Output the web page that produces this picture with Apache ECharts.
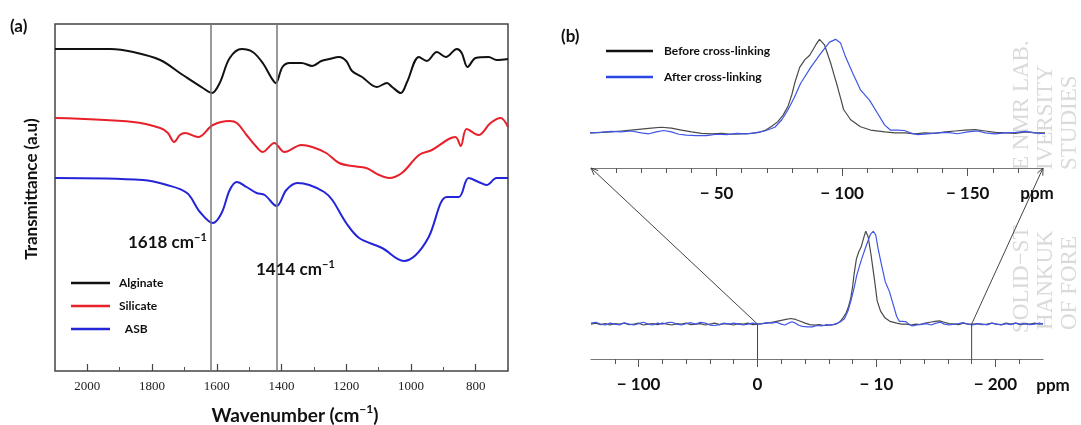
<!DOCTYPE html>
<html>
<head>
  <meta charset="utf-8">
  <title>FTIR and 29Si NMR</title>
  <script src="https://cdn.jsdelivr.net/npm/echarts@6/dist/echarts.min.js"></script>
  <style>
    html, body { margin: 0; padding: 0; background: #fff; }
    #chart { width: 1081px; height: 425px; }
  </style>
</head>
<body>
<div id="chart"></div>
<script>
  // ---- panel (a): FTIR, [wavenumber, transmittance a.u.] ----
  var alginate = [[2100,322],[1929,322],[1858,319],[1775,311],[1705,296],[1643,283],[1615,278],[1591,288],[1560,313],
    [1523,322],[1489,319],[1458,308],[1431,293],[1418,288],[1397,304],[1375,308],[1338,308],[1305,305],[1277,310],
    [1252,312],[1222,314],[1200,310],[1182,300],[1151,294],[1105,284],[1074,288],[1058,284],[1031,278],[1012,289],
    [975,314],[951,310],[920,319],[892,314],[858,322],[843,318],[825,304],[800,313],[760,314],[735,311],[700,312]];
  var silicate = [[2100,253],[1858,249],[1775,243],[1751,238],[1732,229],[1714,236],[1698,238],[1658,234],[1612,246],
    [1560,250],[1538,248],[1508,236],[1477,224],[1458,219],[1422,228],[1391,219],[1338,226],[1305,224],[1262,218],
    [1222,208],[1182,205],[1138,203],[1098,196],[1068,193],[1028,198],[975,216],[935,221],[883,232],[862,234],
    [846,225],[828,242],[791,236],[754,248],[723,253],[700,244]];
  var asb = [[2100,193],[1828,191],[1754,186],[1692,178],[1652,159],[1612,148],[1585,158],[1560,181],[1538,189],
    [1508,184],[1477,178],[1452,176],[1415,165],[1385,181],[1351,188],[1314,186],[1268,179],[1243,171],[1200,148],
    [1160,133],[1089,123],[1022,110],[985,116],[945,134],[889,174],[852,174],[822,193],[791,189],[766,186],[735,193],[700,193]];
  var ftirNames = ['Alginate', 'Silicate', 'ASB'];
  var ftirMarks = [1618, 1414];
  var ftirLabels = [2000, 1800, 1600, 1400, 1200, 1000, 800];
  var ftirMinor = [1900, 1700, 1500, 1300, 1100, 900];

  // ---- panel (b): NMR, [ppm, normalised intensity] ----
  var beforeXL = [[140,0],[136,0.01],[132,-0.005],[128,0.005],[124,-0.01],[120,0.005],[116,0],[112,0.01],[108,-0.005],
    [104,0],[100,0.01],[96,-0.01],[92,0],[88,0.005],[84,-0.005],[80,0.01],[76,0],[72,-0.01],[68,0.005],[64,0],[60,0.01],
    [56,-0.005],[52,0],[48,0.005],[44,-0.01],[40,0],[36,0.01],[32,-0.005],[28,0.005],[24,0],[20,-0.01],[16,0.005],[12,0],
    [8,0.01],[4,-0.005],[0,0],[-4,0.005],[-8,0.01],[-12,0.02],[-16,0.03],[-20,0.04],[-24,0.05],[-28,0.06],[-32,0.05],
    [-36,0.03],[-40,0.01],[-44,-0.005],[-48,-0.01],[-52,-0.005],[-56,-0.015],[-60,-0.01],[-64,-0.005],[-67,0.005],
    [-69.6,0.03],[-72,0.07],[-74.4,0.12],[-76.5,0.19],[-78.4,0.28],[-80,0.41],[-81.1,0.53],[-83.1,0.70],[-85.1,0.78],
    [-87.1,0.83],[-89.5,0.94],[-91,1.0],[-93,0.94],[-95.4,0.75],[-96.8,0.62],[-98.2,0.49],[-99.5,0.36],[-100.6,0.25],
    [-103.4,0.14],[-107.3,0.065],[-111.3,0.03],[-117,0.01],[-121,0],[-125,0],[-129,-0.01],[-133,0],[-137,-0.005],
    [-141,0.01],[-145,0.02],[-149,0.03],[-153,0.035],[-157,0.02],[-161,0.005],[-165,0],[-169,-0.005],[-173,0.01],
    [-177,0],[-181,0],[-185,0.005],[-189,-0.005],[-193,0],[-197,0.01],[-201,0],[-205,-0.005],[-209,0.01],[-213,0],
    [-217,0.01],[-221,-0.005],[-225,0.005],[-229,0],[-233,0.01],[-237,0],[-240,0.005]];
  var afterXL = [[140,0.01],[136,0.02],[132,0],[128,-0.01],[124,0.01],[120,0],[116,-0.01],[112,0.015],[108,0],
    [104,-0.01],[100,0.005],[96,0.02],[92,0],[88,-0.01],[84,0.01],[80,0],[76,0.015],[72,0.02],[68,0],[64,-0.01],
    [60,0.005],[56,0.015],[52,0],[48,0.02],[44,0.01],[40,-0.01],[36,-0.015],[32,-0.005],[28,0.01],[24,0],[20,0.01],
    [16,0],[12,-0.01],[8,0],[4,0.01],[0,0],[-4,0.005],[-8,0.015],[-12,0.01],[-16,0.02],[-20,0],[-23,-0.01],[-26,0.01],
    [-29,0.025],[-32,0.01],[-35,-0.015],[-38,-0.025],[-42,-0.03],[-46,-0.03],[-50,-0.015],[-54,-0.02],[-58,-0.005],
    [-62,-0.01],[-65,0],[-69.2,0.02],[-73.2,0.06],[-76,0.14],[-78.4,0.245],[-81,0.38],[-83.5,0.53],[-87.5,0.70],
    [-91.5,0.85],[-95,0.97],[-97.4,1.0],[-99.4,0.96],[-101.4,0.81],[-104.2,0.64],[-107.3,0.46],[-110.9,0.35],
    [-114.1,0.21],[-116.9,0.085],[-119.2,0.03],[-122,0.03],[-124.8,0.025],[-127.2,0],[-130,-0.02],[-134,-0.01],[-138,0],
    [-142,0.005],[-146,-0.01],[-150,0.01],[-154,0.02],[-157,0],[-161,-0.01],[-165,0],[-169,0.005],[-173,0.015],[-177,0],
    [-181,-0.01],[-185,0.005],[-189,0],[-193,-0.01],[-197,0.01],[-201,0],[-205,-0.01],[-209,0.005],[-213,-0.005],
    [-217,0.01],[-221,0],[-225,0.005],[-229,-0.005],[-233,0],[-237,0.01],[-240,0]];
  var nmrNames = ['Before cross-linking', 'After cross-linking'];
  var zoomRange = [0, -180];            // region of the wide spectrum that is enlarged on top
  var topTickVals = [-50, -100, -150];
  var topTickText = ['\u2212 50', '\u2212 100', '\u2212 150'];
  var topMinor = [-10,-20,-30,-40,-60,-70,-80,-90,-110,-120,-130,-140,-160,-170];
  var botTickVals = [100, 0, -100, -200];
  var botTickText = ['\u2212 100', '0', '\u2212 10', '\u2212 200'];
  var botMinor = [120,80,60,40,20,-20,-40,-60,-80,-120,-140,-160,-180,-220];

  var SANS = 'Lato, "Open Sans", sans-serif';
  var SERIF = '"Liberation Serif", "DejaVu Serif", serif';
  var nmrLow = -0.376, nmrHigh = 1.1;

  function minorAxis(grid, min, max, ticks, len, inside) {
    return {
      type: 'value', gridIndex: grid, min: min, max: max, inverse: true, position: 'bottom',
      axisLine: {show: false, onZero: false}, splitLine: {show: false}, axisLabel: {show: false},
      axisTick: {show: true, customValues: ticks, length: len, inside: inside, lineStyle: {color: '#555', width: 1}}
    };
  }

  var chart = echarts.init(document.getElementById('chart'));

  chart.setOption({
    animation: false,
    backgroundColor: '#fff',
    grid: [
      {left: 55, top: 24, width: 453, height: 347, show: true, borderColor: '#444', borderWidth: 1.5},
      {left: 591, top: 30, width: 452, height: 138},
      {left: 591, top: 222, width: 452, height: 137}
    ],
    xAxis: [
      {
        type: 'value', gridIndex: 0, min: 700, max: 2100, inverse: true,
        axisLine: {show: false, onZero: false}, splitLine: {show: false},
        axisTick: {show: true, inside: true, length: 7, customValues: ftirLabels, lineStyle: {color: '#444', width: 1.2}},
        axisLabel: {customValues: ftirLabels, margin: 9, fontFamily: SERIF, fontSize: 13, color: '#222',
          formatter: function (v) { return String(v); }}
      },
      minorAxis(0, 700, 2100, ftirMinor, 4, true),
      {
        type: 'value', gridIndex: 1, min: zoomRange[1], max: zoomRange[0], inverse: true,
        axisLine: {show: true, onZero: false, lineStyle: {color: '#777', width: 1.2}}, splitLine: {show: false},
        axisTick: {show: true, length: 8, customValues: topTickVals, lineStyle: {color: '#555'}},
        axisLabel: {customValues: topTickVals, margin: 17, fontFamily: SANS, fontWeight: 'bold', fontSize: 17, color: '#111',
          formatter: function (v) { return topTickText[topTickVals.indexOf(v)]; }}
      },
      minorAxis(1, zoomRange[1], zoomRange[0], topMinor, 5, false),
      {
        type: 'value', gridIndex: 2, min: -240, max: 140, inverse: true,
        axisLine: {show: true, onZero: false, lineStyle: {color: '#777', width: 1.2}}, splitLine: {show: false},
        axisTick: {show: true, length: 8, customValues: botTickVals, lineStyle: {color: '#555'}},
        axisLabel: {customValues: botTickVals, margin: 17, fontFamily: SANS, fontWeight: 'bold', fontSize: 17, color: '#111',
          formatter: function (v) { return botTickText[botTickVals.indexOf(v)]; }}
      },
      minorAxis(2, -240, 140, botMinor, 5, false)
    ],
    yAxis: [
      {type: 'value', gridIndex: 0, min: 0, max: 347, show: false},
      {type: 'value', gridIndex: 1, min: nmrLow, max: nmrHigh, show: false},
      {type: 'value', gridIndex: 2, min: nmrLow, max: nmrHigh, show: false}
    ],
    legend: [
      {
        data: ftirNames, orient: 'vertical', left: 71, top: 277, padding: 0, itemGap: 11,
        icon: 'rect', itemWidth: 39, itemHeight: 2.5, selectedMode: false,
        formatter: function (n) { return n === 'ASB' ? '  ' + n : n; },
        textStyle: {fontFamily: SANS, fontWeight: 'bold', fontSize: 12, color: '#111', padding: [0, 0, 0, 4]}
      },
      {
        data: [{name: nmrNames[0], itemStyle: {color: '#111'}}, {name: nmrNames[1], itemStyle: {color: '#2a46e6'}}],
        orient: 'vertical', left: 606, top: 45, padding: 0, itemGap: 14,
        icon: 'rect', itemWidth: 47, itemHeight: 2.5, selectedMode: false,
        textStyle: {fontFamily: SANS, fontWeight: 'bold', fontSize: 12, color: '#111', padding: [0, 0, 0, 6]}
      }
    ],
    series: [
      {
        name: ftirNames[0], type: 'line', xAxisIndex: 0, yAxisIndex: 0, data: alginate, smooth: 0.35,
        showSymbol: false, color: '#111', lineStyle: {width: 2, color: '#111'},
        markLine: {
          silent: true, symbol: 'none', label: {show: false},
          lineStyle: {color: '#777', width: 1.5, type: 'solid'},
          data: ftirMarks.map(function (v) { return {xAxis: v}; })
        }
      },
      {name: ftirNames[1], type: 'line', xAxisIndex: 0, yAxisIndex: 0, data: silicate, smooth: 0.35,
        showSymbol: false, color: '#e8202a', lineStyle: {width: 2, color: '#e8202a'}},
      {name: ftirNames[2], type: 'line', xAxisIndex: 0, yAxisIndex: 0, data: asb, smooth: 0.35,
        showSymbol: false, color: '#2424d8', lineStyle: {width: 2, color: '#2424d8'}},
      {name: nmrNames[0], type: 'line', xAxisIndex: 2, yAxisIndex: 1, data: beforeXL, showSymbol: false,
        color: '#444', lineStyle: {width: 1.2, color: '#4a4a4a'}},
      {name: nmrNames[1], type: 'line', xAxisIndex: 2, yAxisIndex: 1, data: afterXL, showSymbol: false,
        color: '#3b4fe6', lineStyle: {width: 1.2, color: '#4055e6'}},
      {name: nmrNames[0], type: 'line', xAxisIndex: 4, yAxisIndex: 2, data: beforeXL, showSymbol: false,
        color: '#444', lineStyle: {width: 1.2, color: '#4a4a4a'}},
      {name: nmrNames[1], type: 'line', xAxisIndex: 4, yAxisIndex: 2, data: afterXL, showSymbol: false,
        color: '#3b4fe6', lineStyle: {width: 1.2, color: '#4055e6'}}
    ]
  });

  // ---- texts and connector lines (positions of the connectors come from the axes) ----
  function txt(x, y, text, size, extra) {
    var el = {type: 'text', x: x, y: y, z: 10, style: {text: text, fill: '#111', fontFamily: SANS, fontWeight: 'bold',
      fontSize: size, align: 'left', verticalAlign: 'middle'}};
    for (var k in extra) el.style[k] = extra[k];
    return el;
  }
  function supText(x, y, main, tail, size, align) {
    return {type: 'text', x: x, y: y, z: 10, style: {
      text: '{m|' + main + '}{s|\u22121}' + (tail ? '{m|' + tail + '}' : ''),
      align: align || 'left', verticalAlign: 'middle',
      rich: {
        m: {fontFamily: SANS, fontWeight: 'bold', fontSize: size, fill: '#111', lineHeight: size + 6},
        s: {fontFamily: SANS, fontWeight: 'bold', fontSize: Math.round(size * 0.62), fill: '#111',
          lineHeight: Math.round(size * 0.62), verticalAlign: 'top'}
      }
    }};
  }
  function segment(a, b) {
    return {type: 'line', z: 5, shape: {x1: a[0], y1: a[1], x2: b[0], y2: b[1]}, style: {stroke: '#444', lineWidth: 1}};
  }
  function arrowHead(from, to) {
    var dx = to[0] - from[0], dy = to[1] - from[1], len = Math.sqrt(dx * dx + dy * dy);
    var ux = dx / len, uy = dy / len, L = 7, W = 3;
    var bx = to[0] - ux * L, by = to[1] - uy * L;
    return {type: 'polyline', z: 5, shape: {points: [[bx - uy * W, by + ux * W], to, [bx + uy * W, by - ux * W]]},
      style: {stroke: '#444', lineWidth: 1, fill: null}};
  }

  var graphics = [];

  // watermark pieces (left visible around the axis band)
  var wm = [['SOLID\u2212ST', 1022, 333], ['E NMR LAB.', 1022, 170], ['HANKUK', 1046, 330],
    ['IVERSITY', 1046, 170], ['OF FORE', 1070, 330], ['STUDIES', 1070, 170]];
  wm.forEach(function (w) {
    graphics.push({type: 'text', x: w[1], y: w[2], rotation: Math.PI / 2, z: 0, silent: true,
      style: {text: w[0], fill: '#dadada', fontFamily: SERIF, fontSize: 23, align: 'left', verticalAlign: 'middle'}});
  });

  graphics.push(txt(10, 27, '(a)', 17));
  graphics.push(txt(561, 37, '(b)', 17));
  graphics.push(supText(128, 243, '1618 cm', '', 17));
  graphics.push(supText(256, 270, '1414 cm', '', 17));
  graphics.push(supText(295, 416, 'Wavenumber (cm', ')', 19, 'center'));
  graphics.push({type: 'text', x: 32, y: 189, rotation: Math.PI / 2, z: 10,
    style: {text: 'Transmittance (a.u)', fill: '#111', fontFamily: SANS, fontWeight: 'bold', fontSize: 17,
      align: 'center', verticalAlign: 'middle'}});
  graphics.push(txt(1037, 194, 'ppm', 17, {align: 'center'}));
  graphics.push(txt(1053, 386, 'ppm', 17, {align: 'center'}));

  zoomRange.forEach(function (ppm) {
    var base = chart.convertToPixel({xAxisIndex: 4, yAxisIndex: 2}, [ppm, 0]);
    var axisPt = chart.convertToPixel({xAxisIndex: 4, yAxisIndex: 2}, [ppm, nmrLow]);
    var topEnd = chart.convertToPixel({xAxisIndex: 2, yAxisIndex: 1}, [ppm, nmrLow]);
    graphics.push(segment(base, axisPt));
    graphics.push(segment(base, topEnd));
    graphics.push(arrowHead(base, topEnd));
  });

  chart.setOption({graphic: graphics});
</script>
</body>
</html>
